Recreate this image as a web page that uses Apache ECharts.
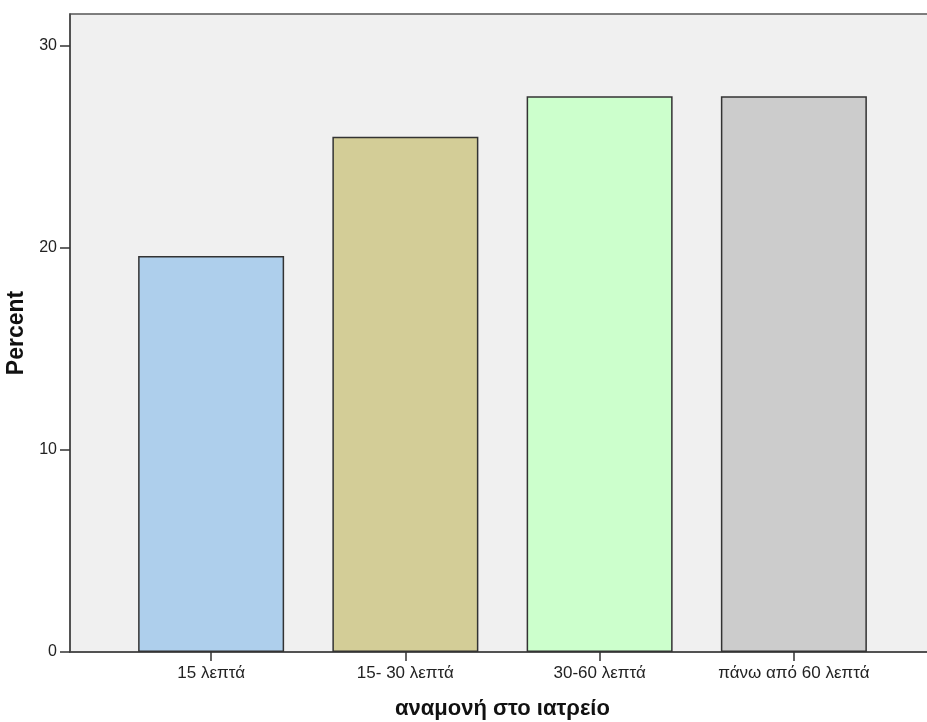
<!DOCTYPE html>
<html>
<head>
<meta charset="utf-8">
<script src="https://cdn.jsdelivr.net/npm/echarts@6/dist/echarts.min.js"></script>
<style>
html,body{margin:0;padding:0;background:#fff;}
#chart{width:927px;height:722px;}
</style>
</head>
<body>
<div id="chart"></div>
<script>
const categories = ['15 λεπτά', '15- 30 λεπτά', '30-60 λεπτά', 'πάνω από 60 λεπτά'];
const percentValues = [19.6, 25.5, 27.5, 27.5];
const barColors = ['#aecfec', '#d3cd97', '#ccffcc', '#cccccc'];
const yTicks = [0, 10, 20, 30];
const yMax = 31.57;
const xTitle = 'αναμονή στο ιατρείο';
const yTitle = 'Percent';

const FONT = '"Liberation Sans", Arial, sans-serif';
const chart = echarts.init(document.getElementById('chart'), null, {renderer: 'canvas'});

chart.setOption({
  animation: false,
  backgroundColor: '#ffffff',
  textStyle: {fontFamily: FONT},
  grid: [
    {left: 70, right: -8, top: 14, bottom: 70, show: true, containLabel: false, outerBoundsMode: 'none',
     backgroundColor: '#f0f0f0', borderColor: '#555555', borderWidth: 1.5},
    {left: 114, right: 36, top: 14, bottom: 70, show: false, containLabel: false, outerBoundsMode: 'none'}
  ],
  xAxis: [
    {gridIndex: 0, type: 'category', data: [''],
     axisLine: {show: true, lineStyle: {color: '#444444', width: 1.5}},
     axisTick: {show: false}, axisLabel: {show: false}, splitLine: {show: false},
     name: xTitle, nameLocation: 'middle', nameGap: 46,
     nameTextStyle: {fontFamily: FONT, fontSize: 22, fontWeight: 'bold', color: '#111111'}},
    {gridIndex: 1, type: 'category', data: categories,
     axisLine: {show: false},
     axisTick: {show: true, alignWithLabel: true, interval: 0, length: 9, lineStyle: {color: '#333333', width: 1.5}},
     axisLabel: {fontFamily: FONT, fontSize: 17, color: '#222222', margin: 13, interval: 0, hideOverlap: false}}
  ],
  yAxis: [
    {gridIndex: 0, type: 'value', min: 0, max: yMax,
     axisLine: {show: true, lineStyle: {color: '#444444', width: 1.5}},
     axisTick: {show: true, length: 10, customValues: yTicks, lineStyle: {color: '#333333', width: 1.5}},
     axisLabel: {fontFamily: FONT, fontSize: 16, color: '#222222', margin: 13, customValues: yTicks},
     splitLine: {show: false},
     name: yTitle, nameLocation: 'middle', nameRotate: 90, nameGap: 41,
     nameTextStyle: {fontFamily: FONT, fontSize: 23, fontWeight: 'bold', color: '#111111'}},
    {gridIndex: 1, type: 'value', min: 0, max: yMax, show: false}
  ],
  series: [{
    type: 'bar',
    xAxisIndex: 1, yAxisIndex: 1,
    barWidth: 146,
    data: percentValues.map((v, i) => ({
      value: v,
      itemStyle: {color: barColors[i], borderColor: '#333333', borderWidth: 1.5}
    }))
  }]
});
</script>
</body>
</html>
